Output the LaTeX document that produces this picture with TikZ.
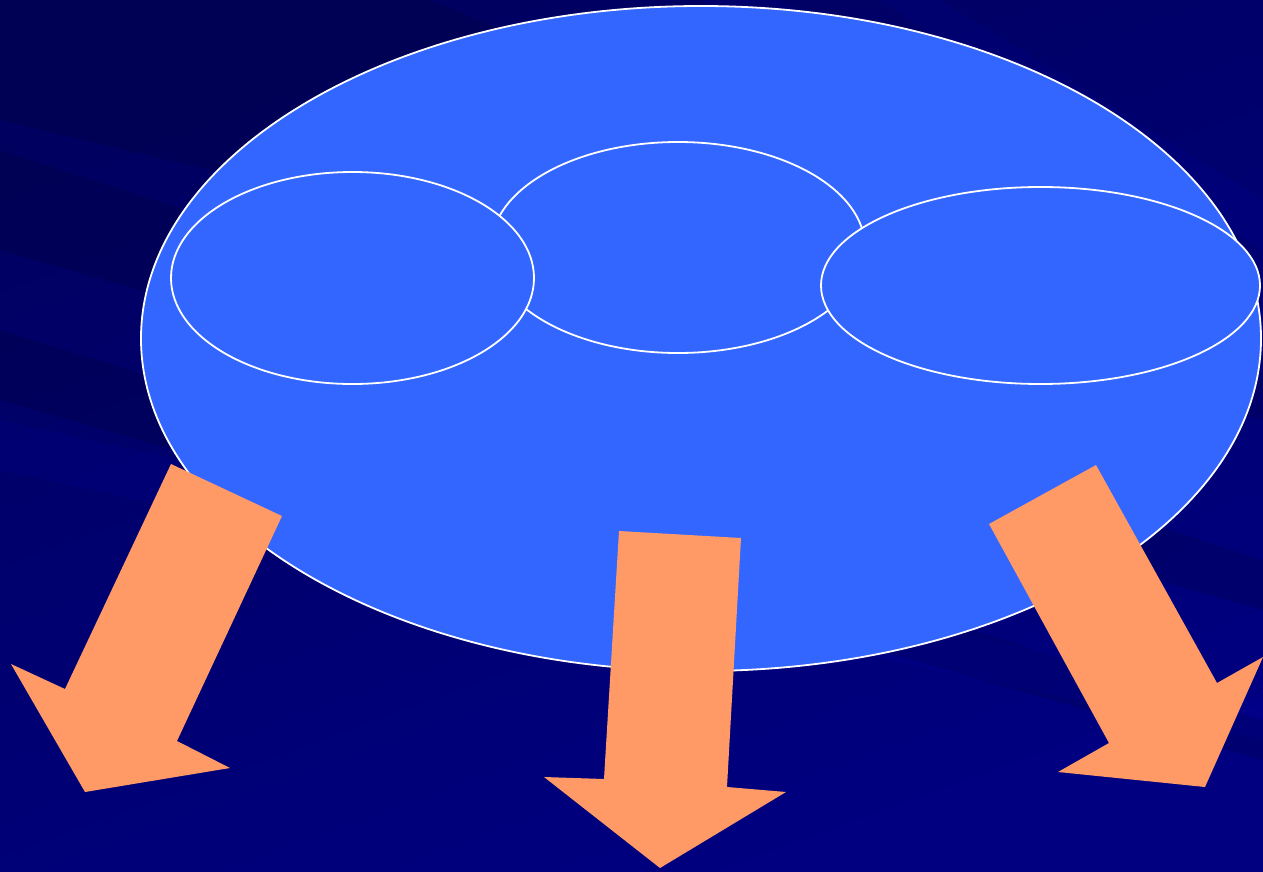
\documentclass[tikz,border=0pt]{standalone}
\usetikzlibrary{shapes.geometric}
\definecolor{bgdark}{HTML}{000050}
\definecolor{bgmid}{HTML}{000070}
\definecolor{bglight}{HTML}{000094}
\definecolor{blobblue}{HTML}{3366FF}
\definecolor{arroworange}{HTML}{FF9966}
\tikzset{
  blob/.style={ellipse, draw=white, line width=1.8pt, fill=blobblue, inner sep=0pt},
  blockarrow/.style={fill=arroworange, draw=none},
  streak/.style={fill=blue, fill opacity=0.06, draw=none},
  darkstreak/.style={fill=black, fill opacity=0.12, draw=none}
}
\begin{document}
\begin{tikzpicture}[x=1pt,y=-1pt]
\useasboundingbox (0,0) rectangle (1263,872);
% background
\shade[top color=bgdark, bottom color=bglight, shading angle=20] (0,0) rectangle (1263,872);
\fill[bgmid, opacity=0.5] (0,0) rectangle (1263,872);
% streaks
\fill[darkstreak] (0,0) -- (430,0) -- (1263,350) -- (1263,420) -- (0,120) -- cycle;
\fill[darkstreak] (0,150) -- (1263,560) -- (1263,610) -- (0,250) -- cycle;
\fill[darkstreak] (0,330) -- (1263,720) -- (1263,760) -- (0,400) -- cycle;
\fill[streak] (0,420) -- (1263,700) -- (1263,740) -- (0,470) -- cycle;
\fill[streak] (700,0) -- (780,0) -- (1263,330) -- (1263,380) -- cycle;
\fill[streak] (880,0) -- (940,0) -- (1263,200) -- (1263,250) -- cycle;
% ellipses
\node[blob, minimum width=1120pt, minimum height=665pt] (big) at (701,338.5) {};
\node[blob, minimum width=374pt, minimum height=211pt] (mid) at (678,247.5) {};
\node[blob, minimum width=363pt, minimum height=212pt] (left) at (352.5,278) {};
\node[blob, minimum width=439pt, minimum height=197pt] (right) at (1040.5,285.5) {};
% arrows
\fill[blockarrow] (171,464) -- (282,516) -- (177,741) -- (230,768) -- (85,792) -- (11,664) -- (65,689) -- cycle;
\fill[blockarrow] (619,531) -- (741,538) -- (727,787) -- (786,792) -- (660,868) -- (544,777) -- (604,779) -- cycle;
\fill[blockarrow] (1096,465) -- (1217,683) -- (1263,657) -- (1205,787) -- (1058,772) -- (1109,743) -- (989,524) -- cycle;
\end{tikzpicture}
\end{document}
